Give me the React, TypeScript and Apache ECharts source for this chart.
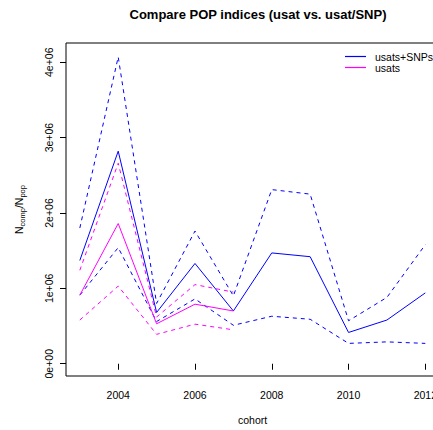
import React, { useEffect, useRef } from "react";
import * as echarts from "echarts";

const years = [2003, 2004, 2005, 2006, 2007, 2008, 2009, 2010, 2011, 2012];
const usatsYears = [2003, 2004, 2005, 2006, 2007];
const xTicks = [2004, 2006, 2008, 2010, 2012];
const yTicks = [0, 1e6, 2e6, 3e6, 4e6];

const snpEst = [1.37e6, 2.82e6, 0.68e6, 1.33e6, 0.7e6, 1.47e6, 1.42e6, 0.415e6, 0.58e6, 0.94e6];
const snpUpper = [1.8e6, 4.07e6, 0.8e6, 1.76e6, 0.9e6, 2.31e6, 2.25e6, 0.57e6, 0.88e6, 1.58e6];
const snpLower = [0.91e6, 1.54e6, 0.56e6, 0.86e6, 0.51e6, 0.63e6, 0.59e6, 0.27e6, 0.29e6, 0.27e6];

const usatEst = [0.91e6, 1.86e6, 0.53e6, 0.79e6, 0.7e6];
const usatUpper = [1.24e6, 2.66e6, 0.62e6, 1.05e6, 0.95e6];
const usatLower = [0.58e6, 1.03e6, 0.39e6, 0.525e6, 0.45e6];

const FONT = "Liberation Sans, Arial, Helvetica, sans-serif";
const BLUE = "#0000ff";
const MAGENTA = "#ff00ff";

function pairs(xs: number[], ys: number[]) {
  return xs.map((x, i) => [x, ys[i]]);
}

function fmtY(v: number) {
  if (v === 0) return "0e+00";
  return Math.round(v / 1e6) + "e+06";
}

export default function App() {
  const ref = useRef<HTMLDivElement>(null);
  useEffect(() => {
    if (!ref.current) return;
    const chart = echarts.init(ref.current, undefined, { renderer: "svg" });
    const lineSeries = (name: string, data: number[][], color: string, dashed: boolean) => ({
      type: "line",
      name,
      data,
      symbol: "none",
      showSymbol: false,
      lineStyle: { color, width: 1, type: dashed ? [4, 4] : "solid" },
      itemStyle: { color },
      z: dashed ? 2 : 3,
    });
    chart.setOption({
      animation: false,
      backgroundColor: "#ffffff",
      textStyle: { fontFamily: FONT },
      title: {
        text: "Compare POP indices (usat vs. usat/SNP)",
        left: 253,
        textAlign: "center",
        top: 3,
        textStyle: { fontFamily: FONT, fontSize: 13, fontWeight: "bold", color: "#000" },
      },
      legend: {
        data: [
          { name: "usats+SNPs", icon: "rect", itemStyle: { color: BLUE } },
          { name: "usats", icon: "rect", itemStyle: { color: MAGENTA } },
        ],
        orient: "vertical",
        left: 340,
        top: 46,
        itemWidth: 21,
        itemHeight: 1.2,
        itemGap: 0,
        textStyle: { fontFamily: FONT, fontSize: 10.5, lineHeight: 11, color: "#000", padding: [0, 0, 0, 4] },
      },
      grid: {
        left: 66,
        top: 43,
        bottom: 53,
        right: 0,
        show: true,
        borderColor: "#000",
        borderWidth: 1,
        backgroundColor: "transparent",
      },
      xAxis: {
        type: "value",
        min: 2002.64,
        max: 2012.36,
        name: "cohort",
        nameLocation: "middle",
        nameGap: 38,
        nameTextStyle: { fontFamily: FONT, fontSize: 10.5, color: "#000" },
        axisLine: { show: false },
        splitLine: { show: false },
        axisTick: { show: true, length: 6, customValues: xTicks, lineStyle: { color: "#000" } },
        axisLabel: {
          customValues: xTicks,
          margin: 13,
          fontFamily: FONT,
          fontSize: 10.5,
          color: "#000",
          formatter: (v: number) => String(v),
        },
      },
      yAxis: {
        type: "value",
        min: -162700,
        max: 4255000,
        name: "{n|N}{s|comp}{n|/N}{s|pop}",
        nameLocation: "middle",
        nameRotate: 90,
        nameGap: 40,
        nameTextStyle: {
          fontFamily: FONT,
          color: "#000",
          rich: {
            n: { fontFamily: FONT, fontSize: 10.5, color: "#000", lineHeight: 14 },
            s: { fontFamily: FONT, fontSize: 7.5, color: "#000", lineHeight: 14, verticalAlign: "bottom", padding: [4, 0, 0, 0] },
          },
        },
        axisLine: { show: false },
        splitLine: { show: false },
        axisTick: { show: true, length: 6, customValues: yTicks, lineStyle: { color: "#000" } },
        axisLabel: {
          customValues: yTicks,
          rotate: 90,
          margin: 12,
          fontFamily: FONT,
          fontSize: 10.5,
          color: "#000",
          formatter: (v: number) => fmtY(v),
        },
      },
      series: [
        lineSeries("usats+SNPs", pairs(years, snpEst), BLUE, false),
        lineSeries("usats+SNPs upper", pairs(years, snpUpper), BLUE, true),
        lineSeries("usats+SNPs lower", pairs(years, snpLower), BLUE, true),
        lineSeries("usats", pairs(usatsYears, usatEst), MAGENTA, false),
        lineSeries("usats upper", pairs(usatsYears, usatUpper), MAGENTA, true),
        lineSeries("usats lower", pairs(usatsYears, usatLower), MAGENTA, true),
      ],
    });
    return () => chart.dispose();
  }, []);
  return (
    <div
      style={{ position: "fixed", left: 0, top: 0, width: 433, height: 430, overflow: "hidden", background: "#fff" }}
    >
      <div ref={ref} style={{ width: 440, height: 430 }} />
    </div>
  );
}
